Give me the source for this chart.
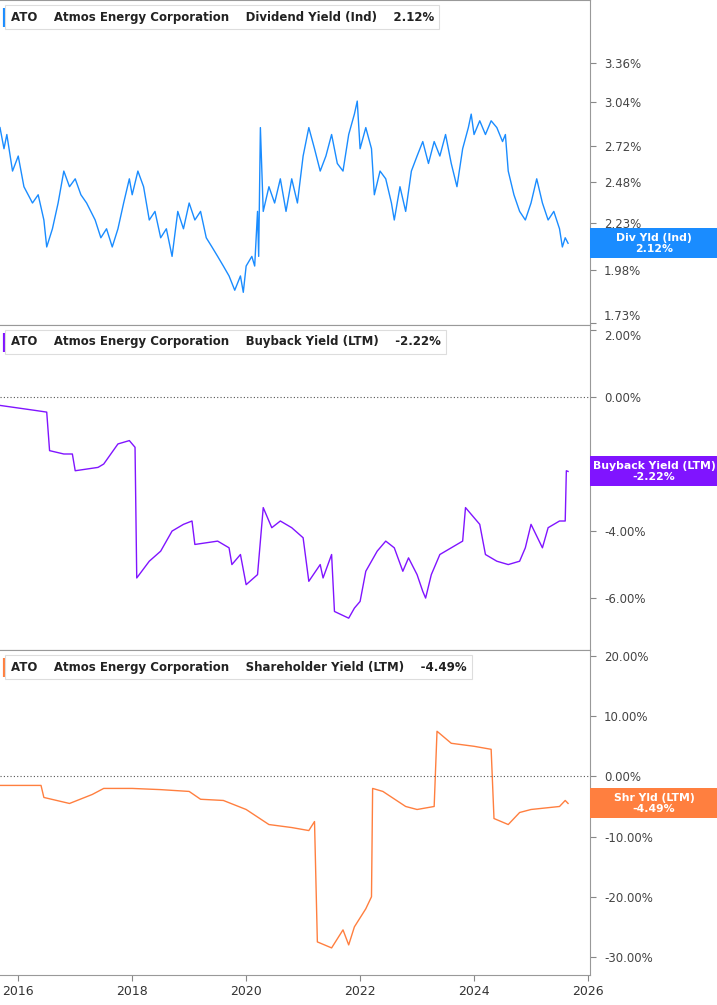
import numpy as np, pandas as pd, seaborn as sns, matplotlib
matplotlib.use("Agg")
import matplotlib.pyplot as plt
from matplotlib.ticker import FixedLocator, NullLocator

div_t = [2015.68,2015.75,2015.8,2015.9,2016.0,2016.1,2016.25,2016.35,2016.45,2016.5,2016.6,2016.7,2016.8,2016.9,2017.0,2017.1,2017.2,2017.35,2017.45,2017.55,2017.65,2017.75,2017.85,2017.95,2018.0,2018.1,2018.2,2018.3,2018.4,2018.5,2018.6,2018.7,2018.8,2018.9,2019.0,2019.1,2019.2,2019.3,2019.4,2019.5,2019.6,2019.7,2019.8,2019.9,2019.95,2020.0,2020.1,2020.15,2020.2,2020.22,2020.25,2020.3,2020.4,2020.5,2020.6,2020.7,2020.8,2020.9,2021.0,2021.1,2021.2,2021.3,2021.4,2021.5,2021.6,2021.7,2021.8,2021.9,2021.95,2022.0,2022.1,2022.2,2022.25,2022.35,2022.45,2022.55,2022.6,2022.7,2022.8,2022.9,2023.0,2023.1,2023.2,2023.3,2023.4,2023.5,2023.6,2023.7,2023.8,2023.9,2023.95,2024.0,2024.1,2024.2,2024.3,2024.4,2024.5,2024.55,2024.6,2024.7,2024.8,2024.9,2025.0,2025.1,2025.2,2025.3,2025.4,2025.5,2025.55,2025.6,2025.65]
div_v = [2.85,2.70,2.80,2.55,2.65,2.45,2.35,2.40,2.25,2.10,2.20,2.35,2.55,2.45,2.50,2.40,2.35,2.25,2.15,2.20,2.10,2.20,2.35,2.50,2.40,2.55,2.45,2.25,2.30,2.15,2.20,2.05,2.30,2.20,2.35,2.25,2.30,2.15,2.10,2.05,2.00,1.95,1.88,1.95,1.87,2.00,2.05,2.00,2.30,2.05,2.85,2.30,2.45,2.35,2.50,2.30,2.50,2.35,2.65,2.85,2.70,2.55,2.65,2.80,2.60,2.55,2.80,2.95,3.05,2.70,2.85,2.70,2.40,2.55,2.50,2.35,2.25,2.45,2.30,2.55,2.65,2.75,2.60,2.75,2.65,2.80,2.60,2.45,2.70,2.85,2.95,2.80,2.90,2.80,2.90,2.85,2.75,2.80,2.55,2.40,2.30,2.25,2.35,2.50,2.35,2.25,2.30,2.20,2.10,2.15,2.12]

bb_t = [2015.68,2016.3,2016.5,2016.55,2016.8,2016.95,2017.0,2017.4,2017.5,2017.75,2017.95,2018.05,2018.08,2018.3,2018.5,2018.7,2018.9,2019.05,2019.1,2019.5,2019.7,2019.75,2019.9,2020.0,2020.2,2020.3,2020.45,2020.6,2020.8,2021.0,2021.1,2021.3,2021.35,2021.5,2021.55,2021.8,2021.9,2022.0,2022.1,2022.3,2022.45,2022.6,2022.75,2022.85,2023.0,2023.1,2023.15,2023.25,2023.4,2023.6,2023.8,2023.85,2024.1,2024.2,2024.4,2024.6,2024.8,2024.9,2025.0,2025.2,2025.3,2025.5,2025.6,2025.62,2025.65]
bb_v = [-0.25,-0.4,-0.45,-1.6,-1.7,-1.7,-2.2,-2.1,-2.0,-1.4,-1.3,-1.5,-5.4,-4.9,-4.6,-4.0,-3.8,-3.7,-4.4,-4.3,-4.5,-5.0,-4.7,-5.6,-5.3,-3.3,-3.9,-3.7,-3.9,-4.2,-5.5,-5.0,-5.4,-4.7,-6.4,-6.6,-6.3,-6.1,-5.2,-4.6,-4.3,-4.5,-5.2,-4.8,-5.3,-5.8,-6.0,-5.3,-4.7,-4.5,-4.3,-3.3,-3.8,-4.7,-4.9,-5.0,-4.9,-4.5,-3.8,-4.5,-3.9,-3.7,-3.7,-2.2,-2.22]

sh_t = [2015.68,2016.4,2016.45,2016.9,2017.3,2017.5,2018.0,2018.5,2019.0,2019.2,2019.6,2020.0,2020.4,2020.8,2021.1,2021.2,2021.25,2021.5,2021.7,2021.8,2021.9,2022.1,2022.2,2022.22,2022.4,2022.8,2023.0,2023.3,2023.35,2023.6,2024.0,2024.3,2024.35,2024.6,2024.8,2025.0,2025.5,2025.6,2025.65]
sh_v = [-1.5,-1.5,-3.5,-4.5,-3.0,-2.0,-2.0,-2.2,-2.5,-3.8,-4.0,-5.5,-8.0,-8.5,-9.0,-7.5,-27.5,-28.5,-25.5,-28.0,-25.0,-22.0,-20.0,-2.0,-2.5,-5.0,-5.5,-5.0,7.5,5.5,5.0,4.5,-7.0,-8.0,-6.0,-5.5,-5.0,-4.0,-4.49]

panels = [
    (div_t, div_v, "#1a8cff", "Dividend Yield (Ind)", "2.12%", "Div Yld (Ind)",
     [3.36,3.04,2.72,2.48,2.23,1.98,1.73], (1.72, 3.95), True),
    (bb_t, bb_v, "#8014ff", "Buyback Yield (LTM)", "-2.22%", "Buyback Yield (LTM)",
     [2,0,-4,-6], (-7.55, 2.15), False),
    (sh_t, sh_v, "#ff7f3f", "Shareholder Yield (LTM)", "-4.49%", "Shr Yld (LTM)",
     [20,10,0,-10,-20,-30], (-33, 21), False),
]

W, H = 717, 1005
fig = plt.figure(figsize=(W/100, H/100), dpi=100)
bounds = [(0, 325), (325, 650), (650, 975)]
xl = (2015.68, 2016 + (590-18)/57)
for i, ((t, v, col, name, last, tag, ticks, ylim, logy), (top, bot)) in enumerate(zip(panels, bounds)):
    ax = fig.add_axes([0, 1-bot/H, 590/W, (bot-top)/H])
    df = pd.DataFrame({"t": t, "v": v})
    sns.lineplot(data=df, x="t", y="v", ax=ax, color=col, lw=1.0)
    if logy:
        ax.set_yscale("log")
    ax.set_ylim(*ylim); ax.set_xlim(*xl)
    ax.yaxis.tick_right()
    ax.yaxis.set_major_locator(FixedLocator(ticks))
    ax.yaxis.set_minor_locator(NullLocator())
    ax.set_yticklabels([f"{x:.2f}%" for x in ticks], fontsize=8.5, color="#444")
    if logy:
        ax.get_yticklabels()[-1].set_va("bottom")
    if i == 1:
        ax.get_yticklabels()[0].set_va("top")
    ax.tick_params(axis="y", length=4, color="#888", pad=6)
    ax.set_xlabel(""); ax.set_ylabel("")
    ax.spines["left"].set_visible(False)
    for s in ["right", "top", "bottom"]:
        ax.spines[s].set_color("#999"); ax.spines[s].set_linewidth(0.8)
    if not logy:
        ax.axhline(0, color="#555", ls=(0, (1, 2)), lw=0.8)
    if i < 2:
        ax.set_xticks([])
    else:
        ax.set_xticks(list(range(2016, 2027, 2)))
        ax.set_xticklabels([str(y) for y in range(2016, 2027, 2)], fontsize=9, color="#333")
        ax.tick_params(axis="x", length=4, color="#888")
    ax.text(0.018, 1 - 17/(bot-top), f"ATO    Atmos Energy Corporation    {name}    {last}",
            transform=ax.transAxes, fontsize=8.5, fontweight="bold", color="#222",
            va="center", ha="left",
            bbox=dict(boxstyle="square,pad=0.45", fc="white", ec="#ddd", lw=0.8))
    ax.plot([0.009, 0.009], [1-8/(bot-top), 1-27/(bot-top)], transform=ax.transAxes,
            color=col, lw=3, solid_capstyle="butt", clip_on=False)
    # right tag: colored box from axis edge to figure edge
    ax.annotate("", xy=(1, v[-1]), xycoords=("axes fraction", "data"))
    yfig = ax.transData.transform((t[-1], v[-1]))[1] / fig.dpi / (H/100)
    fig.patches.append(plt.Rectangle((590/W, yfig - 15/H), 127/W, 30/H,
                                     transform=fig.transFigure, fc=col, ec="none"))
    fig.text(654/W, yfig, f"{tag}\n{last}", ha="center", va="center", fontsize=7.8,
             fontweight="bold", color="white", linespacing=1.1)
fig.savefig("out.png", dpi=100)
